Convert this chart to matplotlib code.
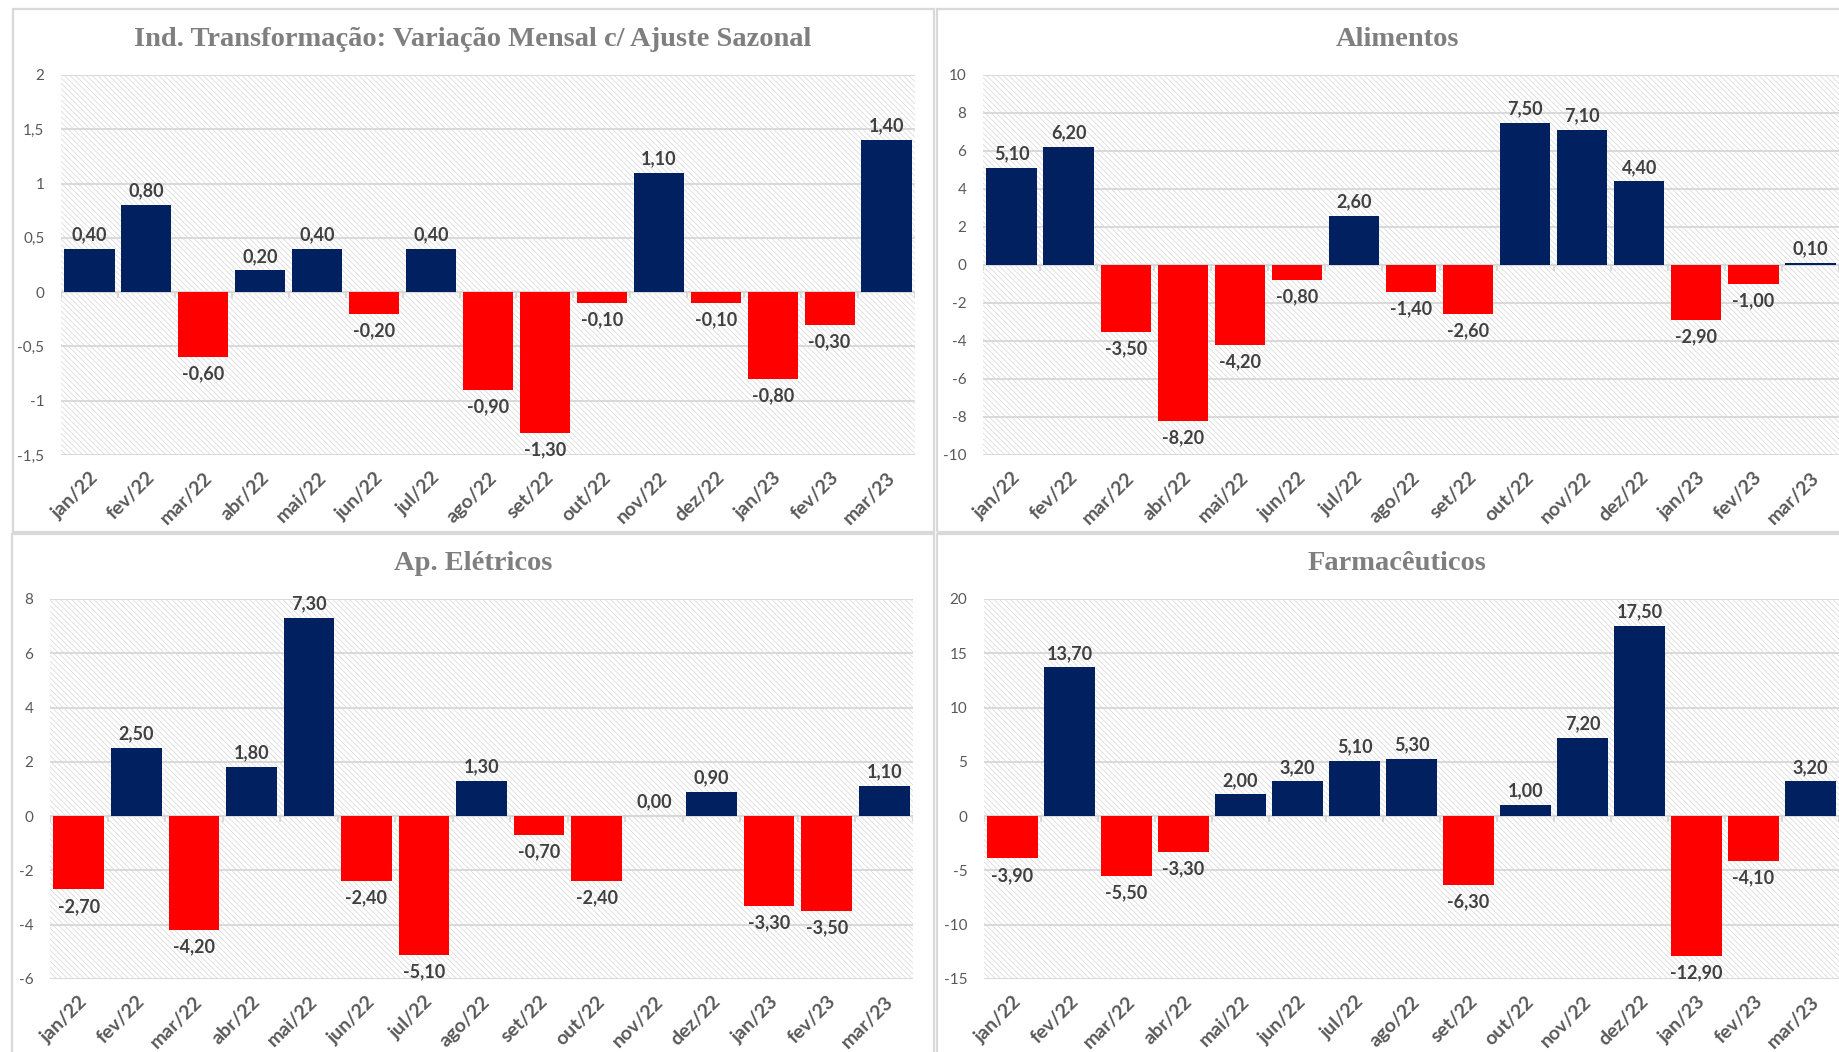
import numpy as np
import matplotlib
matplotlib.use("Agg")
import matplotlib.pyplot as plt
from matplotlib.patches import Rectangle
from matplotlib.transforms import blended_transform_factory

# dados (variação mensal, %)
meses = ["jan/22", "fev/22", "mar/22", "abr/22", "mai/22", "jun/22", "jul/22", "ago/22",
         "set/22", "out/22", "nov/22", "dez/22", "jan/23", "fev/23", "mar/23"]

ind_transf = [0.4, 0.8, -0.6, 0.2, 0.4, -0.2, 0.4, -0.9, -1.3, -0.1, 1.1, -0.1, -0.8, -0.3, 1.4]
alimentos = [5.1, 6.2, -3.5, -8.2, -4.2, -0.8, 2.6, -1.4, -2.6, 7.5, 7.1, 4.4, -2.9, -1.0, 0.1]
ap_eletricos = [-2.7, 2.5, -4.2, 1.8, 7.3, -2.4, -5.1, 1.3, -0.7, -2.4, 0.0, 0.9, -3.3, -3.5, 1.1]
farmaceuticos = [-3.9, 13.7, -5.5, -3.3, 2.0, 3.2, 5.1, 5.3, -6.3, 1.0, 7.2, 17.5, -12.9, -4.1, 3.2]

titulos = ["Ind. Transformação: Variação Mensal c/ Ajuste Sazonal", "Alimentos",
           "Ap. Elétricos", "Farmacêuticos"]

yticks_ind = [-1.5, -1, -0.5, 0, 0.5, 1, 1.5, 2]
yticks_alim = [-10, -8, -6, -4, -2, 0, 2, 4, 6, 8, 10]
yticks_elet = [-6, -4, -2, 0, 2, 4, 6, 8]
yticks_farm = [-15, -10, -5, 0, 5, 10, 15, 20]

AZUL = "#002060"
VERMELHO = "#FF0000"
GRADE = "#d9d9d9"
CINZA_TXT = "#595959"

plt.rcParams["font.family"] = ["Lato", "DejaVu Sans"]
plt.rcParams["hatch.linewidth"] = 0.45

W, H = 1839, 1052
fig = plt.figure(figsize=(W / 100, H / 100), dpi=100)


def px_rect(x0, y0, x1, y1):
    return [x0 / W, 1 - y1 / H, (x1 - x0) / W, (y1 - y0) / H]


def fmt_y(v):
    if float(v).is_integer():
        return str(int(v))
    return ("%g" % v).replace(".", ",")


# bordas dos quatro gráficos
for (x0, y0, x1, y1) in [(13, 9, 934, 532), (937, 9, 1860, 532),
                         (12, 534, 934, 1070), (937, 534, 1860, 1070)]:
    fig.patches.append(Rectangle((x0 / W, 1 - y1 / H), (x1 - x0) / W, (y1 - y0) / H,
                                 transform=fig.transFigure, fill=False,
                                 edgecolor=GRADE, lw=1.6))

paineis = [
    (ind_transf, yticks_ind, (61, 75, 915, 455), (473, 39)),
    (alimentos, yticks_alim, (983, 75, 1839, 455), (1398, 39)),
    (ap_eletricos, yticks_elet, (50, 599, 913, 979), (473, 563)),
    (farmaceuticos, yticks_farm, (984, 599, 1839, 979), (1397, 563)),
]

x = np.arange(len(meses))
for (vals, yt, box, tpos), titulo in zip(paineis, titulos):
    ax = fig.add_axes(px_rect(*box))
    vals = np.array(vals)
    ymin, ymax = yt[0], yt[-1]

    # fundo hachurado
    ax.add_patch(Rectangle((0, 0), 1, 1, transform=ax.transAxes, facecolor="white",
                           edgecolor="#d2d2d2", hatch="\\" * 6, lw=0, zorder=0))

    cores = [AZUL if v >= 0 else VERMELHO for v in vals]
    ax.bar(x, vals, width=0.88, color=cores, zorder=3)

    for i, v in enumerate(vals):
        txt = ("%.2f" % v).replace(".", ",")
        if v >= 0:
            ax.annotate(txt, (i, v), xytext=(0, 4), textcoords="offset points",
                        ha="center", va="bottom", fontsize=13, fontweight="bold",
                        color="#404040", zorder=5)
        else:
            ax.annotate(txt, (i, v), xytext=(0, -6), textcoords="offset points",
                        ha="center", va="top", fontsize=13, fontweight="bold",
                        color="#404040", zorder=5)

    ax.set_xlim(-0.5, len(meses) - 0.5)
    ax.set_ylim(ymin, ymax)
    ax.set_yticks(yt)
    ax.set_yticklabels([fmt_y(v) for v in yt])
    ax.yaxis.grid(True, color=GRADE, lw=1.4, zorder=1)
    ax.set_axisbelow(True)
    for s in ax.spines.values():
        s.set_visible(False)
    ax.tick_params(axis="y", length=0, pad=12, labelsize=11, labelcolor=CINZA_TXT)

    ax.set_xticks(x)
    ax.set_xticklabels(meses, rotation=45, ha="right", rotation_mode="anchor",
                       fontsize=14, fontweight="bold", color=CINZA_TXT)
    ax.tick_params(axis="x", length=0, pad=10)

    # linha do zero com marcas entre categorias
    ax.axhline(0, color=GRADE, lw=1.6, zorder=2)
    z = (0 - ymin) / (ymax - ymin)
    tr = blended_transform_factory(ax.transData, ax.transAxes)
    ax.vlines(np.arange(len(meses) + 1) - 0.5, z - 0.015, z, transform=tr,
              color=GRADE, lw=1.4, zorder=2)

    fig.text(tpos[0] / W, 1 - tpos[1] / H, titulo, ha="center", va="center",
             fontsize=20.5, fontweight="bold", color="#7f7f7f",
             family=["Liberation Serif", "DejaVu Serif"])

fig.savefig("out.png", dpi=100)
